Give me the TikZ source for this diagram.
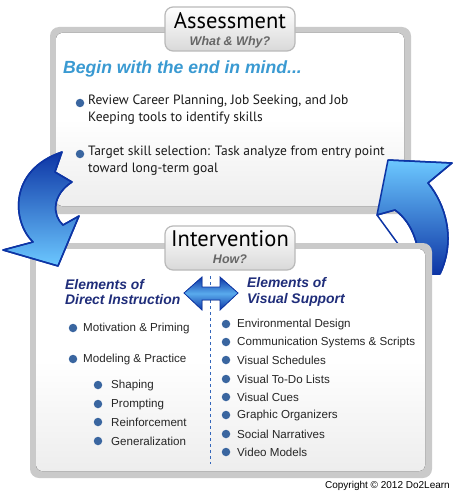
\documentclass[tikz,border=0pt]{standalone}
\usepackage{fontspec}
\setmainfont{Liberation Sans}
\newfontfamily\myriad{PT Sans}
\usetikzlibrary{positioning}
\definecolor{navy}{HTML}{1F2D7A}
\definecolor{skyblue}{HTML}{3A9AD2}
\definecolor{dotblue}{HTML}{3A66A0}
\definecolor{arrowdark}{HTML}{0D35A5}
\definecolor{arrowlight}{HTML}{6CC8FF}
\definecolor{framegray}{HTML}{CACACA}
\definecolor{dashblue}{HTML}{3366BB}

\begin{document}
\begin{tikzpicture}[x=1pt,y=-1pt,
  frame/.style={fill=framegray,rounded corners=9pt},
  panel/.style={top color=white,bottom color=white!93!black,middle color=white,rounded corners=6pt},
  tab/.style={draw=gray!55,line width=1.2pt,top color=white,bottom color=gray!30,rounded corners=8pt},
  bigarrow/.style={draw=arrowdark,line width=1.5pt,line join=round},
  dot/.style={circle,fill=dotblue,inner sep=0pt,minimum size=8.5pt},
  item/.style={anchor=west,inner sep=0pt,font=\fontsize{11.6}{13}\selectfont,text=black!85},
  bigitem/.style={anchor=west,inner sep=0pt,align=left,font=\myriad\fontsize{13.5}{17}\selectfont,text=black!90},
  heading/.style={anchor=west,inner sep=0pt,align=left,text=navy,font=\fontsize{13.9}{15.5}\selectfont\bfseries\itshape},
  title/.style={inner sep=0pt,font=\myriad\fontsize{22.5}{24}\selectfont},
  subtitle/.style={inner sep=0pt,text=black!60,font=\fontsize{12.5}{14}\selectfont\bfseries\itshape}]
\useasboundingbox (0,0) rectangle (458,492);

\fill[frame] (50,27) rectangle (411,214);
\fill[panel] (56,33) rectangle (404,206);
\draw[tab] (165,7) rectangle (295,51);
\node[title] (assess) at (230,21) {Assessment};
\node[subtitle] (why) at (230,42) {What \& Why?};

\node[anchor=west,inner sep=0pt,text=skyblue] (begin) at (63,69) {\fontsize{17.6}{19}\selectfont\bfseries\itshape Begin with the end in mind...};

\node[dot] (d1) at (80,103) {};
\node[bigitem,anchor=north west] (review) at (88,95) {Review Career Planning, Job Seeking, and Job\\Keeping tools to identify skills};
\node[dot] (d2) at (80,154) {};
\node[bigitem,anchor=north west] (target) at (88,146) {Target skill selection: Task analyze from entry point\\toward long-term goal};

\fill[bigarrow,top color=arrowlight,bottom color=arrowdark] (388,160) -- (452,163) -- (428,183)
  .. controls (446,205) and (456,240) .. (440,274) -- (420,274)
  .. controls (420,248) and (414,224) .. (395,210) -- (377,215) -- cycle;
\draw[bigarrow] (388,160) -- (452,163) -- (428,183)
  .. controls (446,205) and (456,240) .. (440,274);
\draw[bigarrow] (420,274) .. controls (420,248) and (414,224) .. (395,210) -- (377,215) -- cycle;

\fill[frame] (30,243) rectangle (432,478);
\fill[panel] (36,249) rectangle (425,471);
\draw[tab] (165,226) rectangle (295,270);
\node[title] (interv) at (230,239) {Intervention};
\node[subtitle] (how) at (230,259) {How?};

\draw[dashblue,line width=0.8pt,dash pattern=on 3pt off 3pt] (210,276) -- (210,464);
\fill[draw=arrowdark,line width=0.8pt,top color=arrowdark,bottom color=arrowdark,middle color=arrowlight!80!arrowdark]
  (184,293) -- (202,277) -- (202,287) -- (220,287) -- (220,277) -- (238,293)
  -- (220,310) -- (220,300) -- (202,300) -- (202,310) -- cycle;

\node[heading] (direct) at (65,292) {Elements of\\Direct Instruction};
\node[heading] (visual) at (247,292) {Elements of\\Visual Support};

\node[dot] (m1) at (73,328) {};
\node[item] (motiv) at (83,328) {Motivation \& Priming};
\node[dot] (m2) at (73,359) {};
\node[item] (model) at (83,359) {Modeling \& Practice};
\node[dot] (s1) at (98,385) {};
\node[item] (shape) at (111,385) {Shaping};
\node[dot] (s2) at (98,404) {};
\node[item] (prompt) at (111,404) {Prompting};
\node[dot] (s3) at (98,422) {};
\node[item] (reinf) at (111,422) {Reinforcement};
\node[dot] (s4) at (98,441) {};
\node[item] (general) at (111,441) {Generalization};

\node[dot] (v1) at (226,324) {};
\node[item] (envir) at (237,324) {Environmental Design};
\node[dot] (v2) at (226,342) {};
\node[item] (commu) at (237,342) {Communication Systems \& Scripts};
\node[dot] (v3) at (226,360) {};
\node[item] (sched) at (237,360) {Visual Schedules};
\node[dot] (v4) at (226,379) {};
\node[item] (todo) at (237,379) {Visual To-Do Lists};
\node[dot] (v5) at (226,397) {};
\node[item] (cues) at (237,397) {Visual Cues};
\node[dot] (v6) at (226,415) {};
\node[item] (graph) at (237,415) {Graphic Organizers};
\node[dot] (v7) at (226,434) {};
\node[item] (narr) at (237,434) {Social Narratives};
\node[dot] (v8) at (226,452) {};
\node[item] (video) at (237,452) {Video Models};

\fill[bigarrow,top color=arrowdark,bottom color=arrowlight] (62,152) -- (55,172) -- (72,182)
  .. controls (52,195) and (52,215) .. (63,225) -- (79,216) -- (58,266) -- (3,250) -- (33,242)
  .. controls (12,222) and (8,170) .. cycle;
\draw[bigarrow] (62,152) -- (55,172) -- (72,182)
  .. controls (52,195) and (52,215) .. (63,225) -- (79,216) -- (58,266) -- (3,250) -- (33,242)
  .. controls (12,222) and (8,170) .. cycle;

\node[anchor=east,inner sep=0pt] (copy) at (450,486) {\fontsize{10}{12}\selectfont Copyright \textcopyright{} 2012 Do2Learn};
\end{tikzpicture}
\end{document}
